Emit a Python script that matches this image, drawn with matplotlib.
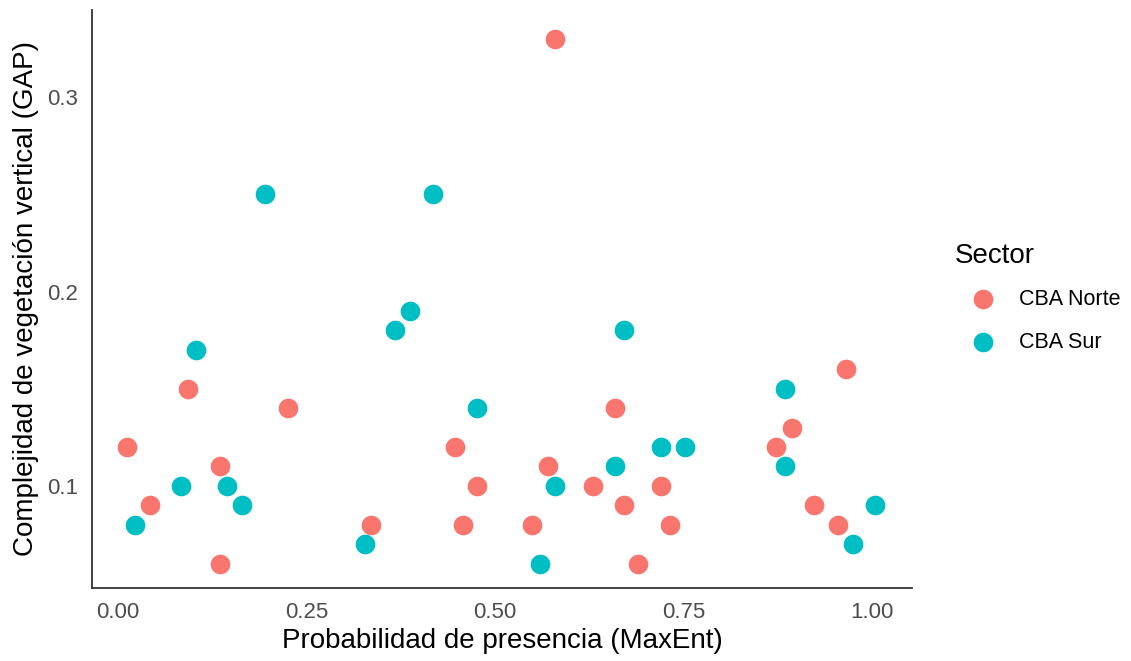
import matplotlib.pyplot as plt

plt.rcParams['font.family'] = ['Liberation Sans', 'DejaVu Sans']

# CBA Norte
norte_x = [0.012, 0.042, 0.093, 0.135, 0.135, 0.225, 0.336, 0.447, 0.458, 0.477,
           0.549, 0.570, 0.580, 0.630, 0.660, 0.672, 0.690, 0.721, 0.732, 0.873,
           0.894, 0.924, 0.955, 0.966]
norte_y = [0.12, 0.09, 0.15, 0.11, 0.06, 0.14, 0.08, 0.12, 0.08, 0.10,
           0.08, 0.11, 0.33, 0.10, 0.14, 0.09, 0.06, 0.10, 0.08, 0.12,
           0.13, 0.09, 0.08, 0.16]

# CBA Sur
sur_x = [0.023, 0.084, 0.103, 0.145, 0.164, 0.195, 0.328, 0.367, 0.387, 0.418,
         0.477, 0.560, 0.580, 0.660, 0.672, 0.721, 0.752, 0.885, 0.885, 0.975,
         1.004]
sur_y = [0.08, 0.10, 0.17, 0.10, 0.09, 0.25, 0.07, 0.18, 0.19, 0.25,
         0.14, 0.06, 0.10, 0.11, 0.18, 0.12, 0.12, 0.15, 0.11, 0.07,
         0.09]

fig = plt.figure(figsize=(11.31, 6.61), dpi=100)
ax = fig.add_axes([0.0813, 0.1104, 0.7251, 0.8746])

ax.scatter(norte_x, norte_y, s=200, color='#F8766D', label='CBA Norte', linewidths=0, zorder=3)
ax.scatter(sur_x, sur_y, s=200, color='#00BFC4', label='CBA Sur', linewidths=0, zorder=3)

ax.set_xlim(-0.0345, 1.0535)
ax.set_ylim(0.0474, 0.345)
ax.set_xticks([0, 0.25, 0.5, 0.75, 1.0])
ax.set_xticklabels(['0.00', '0.25', '0.50', '0.75', '1.00'])
ax.set_yticks([0.1, 0.2, 0.3])
ax.set_yticklabels(['0.1', '0.2', '0.3'])
ax.tick_params(length=0, labelsize=16, labelcolor='#4D4D4D', pad=10)

for side in ['top', 'right']:
    ax.spines[side].set_visible(False)
for side in ['left', 'bottom']:
    ax.spines[side].set_color('#333333')
    ax.spines[side].set_linewidth(1.3)

ax.set_xlabel('Probabilidad de presencia (MaxEnt)', fontsize=20, labelpad=4)
ax.set_ylabel('Complejidad de vegetación vertical (GAP)', fontsize=20, labelpad=6)

leg = fig.legend(title='Sector', loc='center left', bbox_to_anchor=(0.829, 0.549),
                 frameon=False, fontsize=15.5, title_fontsize=20,
                 handlelength=2.6, handletextpad=0.4, labelspacing=1.05,
                 borderpad=0.3, markerscale=1.0)
leg._legend_box.align = 'left'
leg._legend_box.sep = 14

fig.savefig('out.png', dpi=100)
